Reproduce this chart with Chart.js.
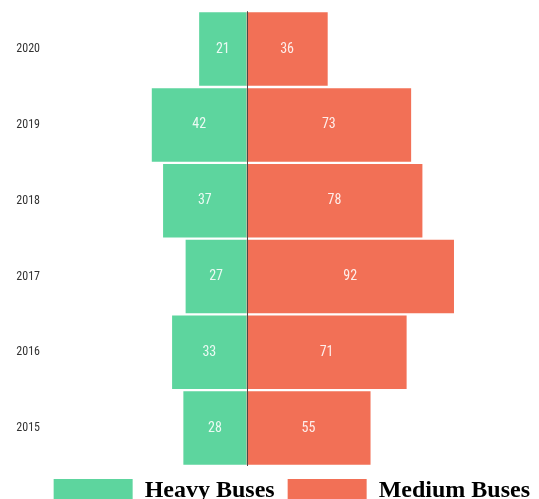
<!DOCTYPE html>
<html>
<head>
<meta charset="utf-8">
<script src="https://cdn.jsdelivr.net/npm/chart.js@4/dist/chart.umd.min.js"></script>
<style>
  html, body { margin: 0; padding: 0; background: #fff; overflow: hidden; }
  #wrap { width: 539px; height: 513px; }
</style>
</head>
<body>
<div id="wrap"><canvas id="c"></canvas></div>
<script>
// Bus registrations by year, heavy vs medium
const years = ['2020', '2019', '2018', '2017', '2016', '2015'];
const heavyBuses = [21, 42, 37, 27, 33, 28];
const mediumBuses = [36, 73, 78, 92, 71, 55];

const GREEN = '#5dd59e';
const ORANGE = '#f27056';

// Labels centred inside each bar, plus the dark divider at zero
const barLabels = {
  id: 'barLabels',
  afterDatasetsDraw(chart) {
    const ctx = chart.ctx;
    ctx.save();
    ctx.font = '14px "Liberation Sans Narrow", "Roboto Condensed", "Liberation Sans", sans-serif';
    ctx.fillStyle = 'rgba(255,255,255,0.88)';
    ctx.textAlign = 'center';
    ctx.textBaseline = 'middle';
    chart.data.datasets.forEach((ds, di) => {
      chart.getDatasetMeta(di).data.forEach((bar, i) => {
        const cx = (bar.x + bar.base) / 2;
        ctx.fillText(String(Math.abs(ds.data[i])), cx, bar.y);
      });
    });
    const x0 = chart.scales.x.getPixelForValue(0);
    const area = chart.chartArea;
    ctx.strokeStyle = '#4a4a4a';
    ctx.lineWidth = 1;
    ctx.beginPath();
    ctx.moveTo(Math.round(x0) + 0.5, area.top);
    ctx.lineTo(Math.round(x0) + 0.5, area.bottom);
    ctx.stroke();
    ctx.restore();
  }
};

new Chart(document.getElementById('c'), {
  type: 'bar',
  data: {
    labels: years,
    datasets: [
      { label: 'Heavy Buses', data: heavyBuses.map(v => -v), backgroundColor: GREEN, borderWidth: 0 },
      { label: 'Medium Buses', data: mediumBuses, backgroundColor: ORANGE, borderWidth: 0 }
    ]
  },
  options: {
    indexAxis: 'y',
    responsive: true,
    maintainAspectRatio: false,
    animation: false,
    layout: { padding: { top: 11, left: 0, right: -4, bottom: 0 } },
    datasets: { bar: { barPercentage: 0.97, categoryPercentage: 1.0 } },
    scales: {
      x: {
        stacked: true,
        display: false,
        min: -89.8,
        max: 129.7
      },
      y: {
        stacked: true,
        grid: { display: false, drawTicks: false },
        border: { display: false },
        ticks: {
          padding: 4,
          color: '#333',
          font: { family: '"Liberation Sans Narrow", "Roboto Condensed", "Liberation Sans", sans-serif', size: 12 }
        },
        afterFit(scale) { scale.width = 44; }
      }
    },
    plugins: {
      tooltip: { enabled: false },
      legend: {
        position: 'bottom',
        align: 'end',
        labels: {
          boxWidth: 79,
          boxHeight: 24,
          padding: 13,
          color: '#000',
          font: { family: '"Liberation Serif", "Times New Roman", serif', size: 24, weight: 'bold' }
        }
      }
    }
  },
  plugins: [barLabels]
});
</script>
</body>
</html>
